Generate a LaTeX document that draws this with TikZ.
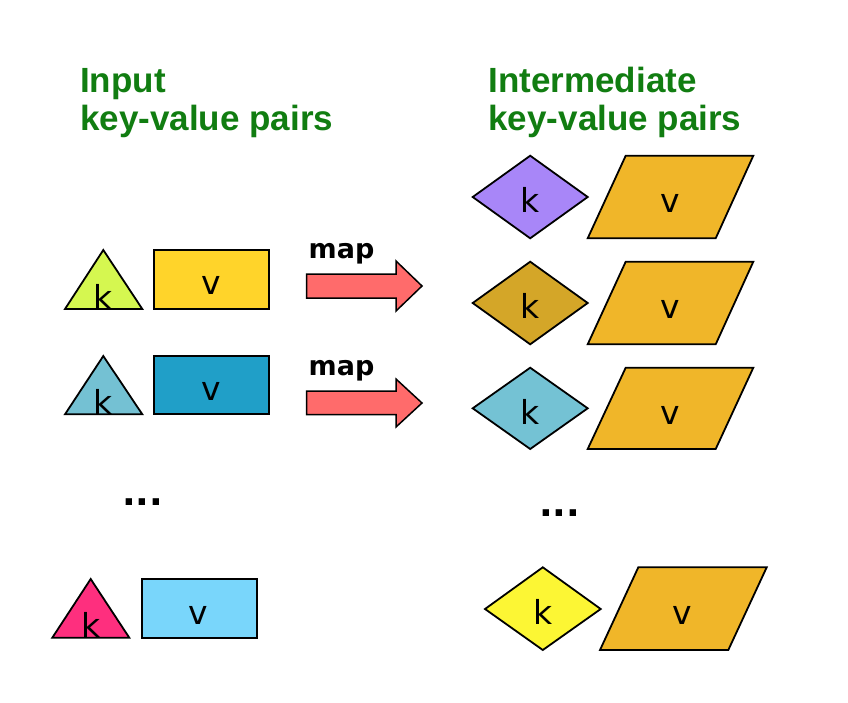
\documentclass[tikz,border=0pt]{standalone}
\usepackage{fontspec}
\newfontfamily\headfont{Liberation Sans}
\newfontfamily\dvfont{DejaVu Sans}
\definecolor{headgreen}{RGB}{17,125,17}
\definecolor{triA}{RGB}{213,247,80}
\definecolor{rectA}{RGB}{255,212,42}
\definecolor{triB}{RGB}{116,193,211}
\definecolor{rectB}{RGB}{32,159,200}
\definecolor{triC}{RGB}{254,47,126}
\definecolor{rectC}{RGB}{121,214,251}
\definecolor{arrowred}{RGB}{255,107,107}
\definecolor{diaA}{RGB}{168,134,248}
\definecolor{diaB}{RGB}{212,166,40}
\definecolor{diaC}{RGB}{116,194,212}
\definecolor{diaD}{RGB}{252,246,52}
\definecolor{paraorange}{RGB}{240,182,41}
\begin{document}
\begin{tikzpicture}[x=1pt,y=-1pt,
  shapeline/.style={draw=black,line width=1.8pt,line join=miter},
  arrowline/.style={draw=black,line width=1.5pt,line join=miter,fill=arrowred},
  headtext/.style={anchor=base west,inner sep=0pt,text=headgreen,font=\headfont\bfseries\fontsize{35}{37}\selectfont},
  kvtext/.style={anchor=base,inner sep=0pt,font=\dvfont\fontsize{33}{33}\selectfont},
  maptext/.style={anchor=base west,inner sep=0pt,font=\dvfont\bfseries\fontsize{27}{27}\selectfont},
  dotstext/.style={anchor=base west,inner sep=0pt,font=\dvfont\bfseries\fontsize{36}{36}\selectfont}]
\useasboundingbox (0,0) rectangle (848,702);
\fill[white] (0,0) rectangle (848,702);

% headings
\node[headtext] (inA) at (80,92.7) {Input};
\node[headtext] (inB) at (80,130) {key-value pairs};
\node[headtext] (imA) at (488.3,92.7) {Intermediate};
\node[headtext] (imB) at (488.3,130) {key-value pairs};

% input row 1
\path[shapeline,fill=triA] (103.3,250) -- (142.3,309) -- (65,309) -- cycle;
\path[shapeline,fill=rectA] (154.3,250) rectangle (269,309);
\node[kvtext] (k1) at (103.5,309) {k};
\node[kvtext] (v1) at (211,294) {v};

% input row 2
\path[shapeline,fill=triB] (103.3,356) -- (142.3,414.3) -- (65,414.3) -- cycle;
\path[shapeline,fill=rectB] (154.3,356) rectangle (269,414.3);
\node[kvtext] (k2) at (103.5,414.3) {k};
\node[kvtext] (v2) at (211,400) {v};

% input dots
\node[dotstext] (dotsL) at (121.8,505) {...};

% input row 3
\path[shapeline,fill=triC] (90.7,579) -- (129.3,637.7) -- (52.3,637.7) -- cycle;
\path[shapeline,fill=rectC] (141.7,579.3) rectangle (256.7,638);
\node[kvtext] (k3) at (90.8,637.7) {k};
\node[kvtext] (v3) at (198.3,624) {v};

% map arrows
\path[arrowline] (306.7,274) -- (396,274) -- (396,261) -- (422,286) -- (396,311) -- (396,298) -- (306.7,298) -- cycle;
\node[maptext] (map1) at (308.5,258) {map};
\path[arrowline] (306.7,391) -- (396,391) -- (396,379) -- (422,403) -- (396,427) -- (396,414.5) -- (306.7,414.5) -- cycle;
\node[maptext] (map2) at (308.5,375) {map};

% intermediate row 1
\path[shapeline,fill=diaA] (472.7,197) -- (530.2,155.7) -- (587.7,197) -- (530.2,238.3) -- cycle;
\path[shapeline,fill=paraorange] (625.7,155.7) -- (753.3,155.7) -- (715.7,238.3) -- (587.7,238.3) -- cycle;
\node[kvtext] (k4) at (530.2,212.3) {k};
\node[kvtext] (v4) at (670,212.3) {v};

% intermediate row 2
\path[shapeline,fill=diaB] (472.7,303) -- (530.2,261.7) -- (587.7,303) -- (530.2,344.3) -- cycle;
\path[shapeline,fill=paraorange] (625.7,261.7) -- (753.3,261.7) -- (715.7,344.3) -- (587.7,344.3) -- cycle;
\node[kvtext] (k5) at (530.2,318.3) {k};
\node[kvtext] (v5) at (670,318.3) {v};

% intermediate row 3
\path[shapeline,fill=diaC] (472.7,408.3) -- (530.2,367.7) -- (587.7,408.3) -- (530.2,449) -- cycle;
\path[shapeline,fill=paraorange] (625.7,367.7) -- (753.3,367.7) -- (715.7,449) -- (587.7,449) -- cycle;
\node[kvtext] (k6) at (530.2,424) {k};
\node[kvtext] (v6) at (670,424) {v};

% intermediate dots
\node[dotstext] (dotsR) at (538.8,516.7) {...};

% intermediate row 4
\path[shapeline,fill=diaD] (485,609) -- (542.8,567.3) -- (600.7,609) -- (542.8,650) -- cycle;
\path[shapeline,fill=paraorange] (638.3,567.3) -- (766.7,567.3) -- (728.3,650) -- (600,650) -- cycle;
\node[kvtext] (k7) at (542.7,624) {k};
\node[kvtext] (v7) at (682.3,624) {v};
\end{tikzpicture}
\end{document}
